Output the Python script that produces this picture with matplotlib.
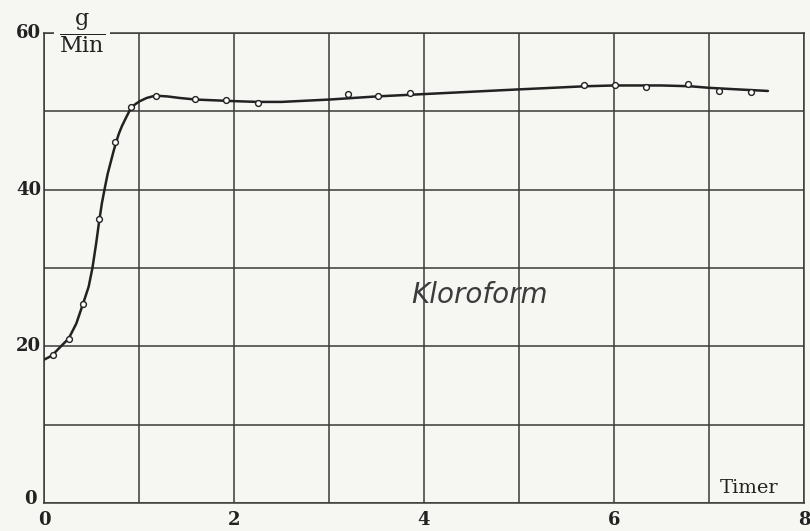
import matplotlib
matplotlib.use("Agg")
import matplotlib.pyplot as plt

# Measured points (hours, g/min)
obs_t = [0.09, 0.26, 0.41, 0.58, 0.75, 0.92, 1.18, 1.59, 1.92, 2.25,
         3.20, 3.52, 3.85, 5.68, 6.01, 6.34, 6.78, 7.10, 7.44]
obs_v = [18.9, 20.9, 25.4, 36.3, 46.1, 50.5, 52.0, 51.6, 51.5, 51.0,
         52.2, 52.0, 52.3, 53.3, 53.4, 53.1, 53.5, 52.6, 52.5]

# Hand-faired curve through the measurements
curve_t = [0.00, 0.05, 0.09, 0.17, 0.26, 0.34, 0.41, 0.47, 0.51, 0.55, 0.58,
           0.61, 0.64, 0.67, 0.70, 0.73, 0.76, 0.79, 0.82, 0.86, 0.91, 0.96,
           1.01, 1.08, 1.17, 1.30, 1.43, 1.60, 1.80, 2.00, 2.25, 2.50, 3.00,
           3.50, 4.00, 4.50, 5.00, 5.70, 6.00, 6.50, 6.80, 7.00, 7.30, 7.62]
curve_v = [18.3, 18.6, 18.9, 19.9, 21.0, 22.9, 25.4, 27.6, 30.0, 33.2, 35.9,
           38.3, 40.2, 42.0, 43.4, 44.8, 46.1, 47.2, 48.1, 49.1, 50.3, 50.9,
           51.3, 51.7, 52.0, 51.9, 51.7, 51.5, 51.4, 51.3, 51.2, 51.2, 51.5,
           51.9, 52.2, 52.5, 52.8, 53.2, 53.3, 53.3, 53.2, 53.0, 52.8, 52.6]

x_ticks = [0, 2, 4, 6, 8]
y_ticks = [0, 20, 40, 60]

paper = "#f6f6f2"
ink = "#222222"

plt.rcParams["font.family"] = ["DejaVu Serif"]
plt.rcParams["mathtext.fontset"] = "dejavuserif"

fig = plt.figure(figsize=(8.10, 5.31), dpi=100, facecolor=paper)
ax = fig.add_axes([0.0543, 0.0527, 0.9383, 0.8852], facecolor=paper)

ax.set_xlim(0, 8)
ax.set_ylim(0, 60)

# Grid every hour and every 10 g/min
ax.set_xticks(range(0, 9))
ax.set_yticks(range(0, 61, 10))
ax.grid(True, color="#3a3a3a", linewidth=1.1)
ax.tick_params(length=0, labelbottom=False, labelleft=False)
for s in ax.spines.values():
    s.set_color("#3a3a3a")
    s.set_linewidth(1.1)

# Curve and data points
ax.plot(curve_t, curve_v, color=ink, linewidth=1.8, zorder=3,
        solid_capstyle="round", solid_joinstyle="round")
ax.plot(obs_t, obs_v, linestyle="none", marker="o", markersize=4.2,
        markerfacecolor="white", markeredgecolor=ink, markeredgewidth=1.0, zorder=4)

# Tick numbers
for v in y_ticks:
    if v == 0:
        ax.text(-0.08, v + 0.5, str(v), ha="right", va="center", fontsize=13,
                fontweight="bold", color=ink, clip_on=False)
    else:
        ax.text(-0.03, v, str(v), ha="right", va="center", fontsize=13,
                fontweight="bold", color=ink, clip_on=False)
for v in x_ticks:
    ax.text(v, -1.0, str(v), ha="center", va="top", fontsize=13,
            fontweight="bold", color=ink, clip_on=False)

# Unit on the y axis
ax.text(0.4, 60.0, r"$\dfrac{\mathrm{g}}{\mathrm{Min}}$", ha="center", va="center",
        fontsize=16, color=ink, clip_on=False, zorder=5,
        bbox=dict(boxstyle="square,pad=0.2", facecolor=paper, edgecolor="none"))

# Unit on the x axis
ax.text(7.42, 1.9, "Timer", ha="center", va="center", fontsize=14, color=ink,
        zorder=5)

# Curve label
ax.text(4.58, 26.5, "Kloroform", ha="center", va="center", fontsize=20,
        family=["DejaVu Sans"], style="italic", color="#3c3c3c", zorder=5)

fig.savefig("out.png", dpi=100, facecolor=paper)
